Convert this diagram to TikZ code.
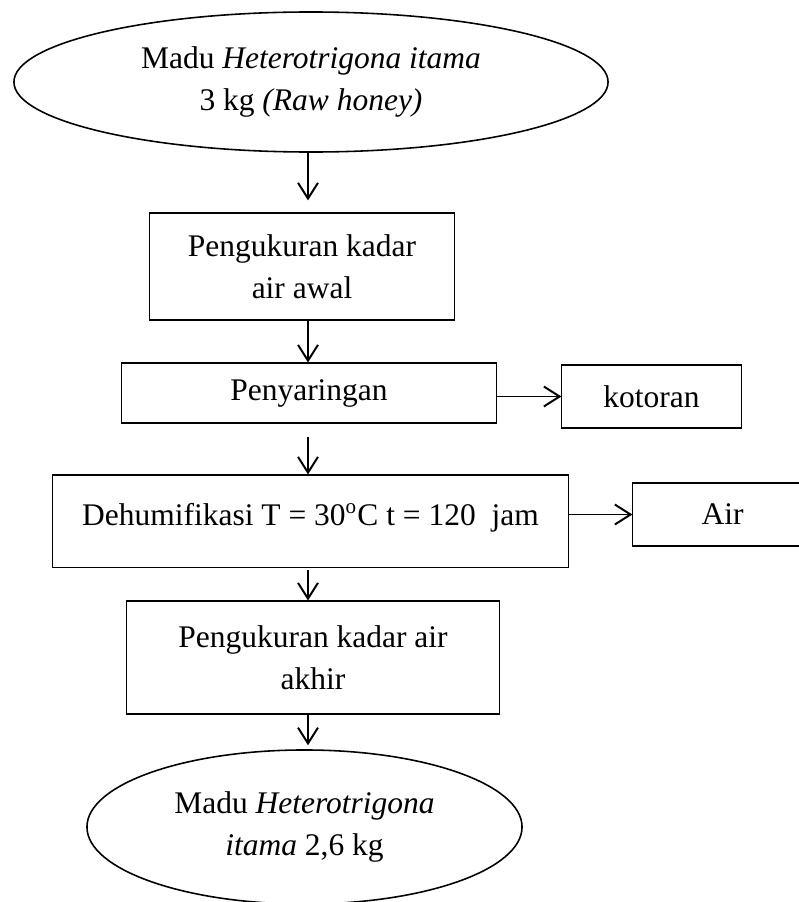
\documentclass[tikz,border=0pt]{standalone}
\usepackage{fontspec}
\setmainfont{Liberation Serif}
\usetikzlibrary{arrows.meta, shapes.geometric}

\begin{document}
\begin{tikzpicture}[x=0.0134cm, y=-0.0134cm,
        box/.style={draw, line width=0.4pt, inner sep=0pt, align=center,
                    font=\fontsize{12}{16}\selectfont},
        oval/.style={draw, ellipse, line width=0.6pt, inner sep=0pt, align=center,
                     font=\fontsize{12}{16}\selectfont},
        arr/.style={-{Straight Barb[length=6pt, width=7.6pt]}, line width=0.75pt}
      ]
      \clip (0,0) rectangle (799,902);
      \coordinate (axis) at (308,0);
      \node[oval, minimum width=7.96cm, minimum height=1.876cm] (raw) at (311,82)
        {Madu \textit{Heterotrigona itama}\\ 3 kg \textit{(Raw honey)}};
      \node[box, minimum width=4.074cm, minimum height=1.434cm] (awal) at (302,266.5)
        {Pengukuran kadar\\ air awal};
      \node[box, minimum width=5.012cm, minimum height=0.804cm] (saring) at (309,393)
        {Penyaringan};
      \node[box, minimum width=2.399cm, minimum height=0.844cm] (kotor) at (651.5,396.5)
        {kotoran};
      \node[box, minimum width=6.901cm, minimum height=1.233cm, text depth=5.4pt] (dehum) at (310.5,521)
        {Dehumifikasi T = 30\textsuperscript{o}C t = 120~ jam};
      \node[box, minimum width=2.399cm, minimum height=0.844cm] (air) at (722.5,514.5)
        {Air};
      \node[box, minimum width=4.985cm, minimum height=1.514cm] (akhir) at (313,657.5)
        {Pengukuran kadar air\\ akhir};
      \node[oval, minimum width=5.829cm, minimum height=2.064cm] (hasil) at (304.5,827)
        {Madu \textit{Heterotrigona}\\ \textit{itama} 2,6 kg};
      \draw[arr, shorten >=4.6pt] (raw.south -| axis) -- (awal.north -| axis);
      \draw[arr] (awal.south -| axis) -- (saring.north -| axis);
      \draw[arr, shorten <=5pt] (saring.south -| axis) -- (dehum.north -| axis);
      \draw[arr, shorten <=1pt] (dehum.south -| axis) -- (akhir.north -| axis);
      \draw[arr, shorten >=1.5pt] (akhir.south -| axis) -- (hasil.north -| axis);
      \draw[arr] (kotor.west -| saring.east) -- (kotor.west);
      \draw[arr] (air.west -| dehum.east) -- (air.west);
    \end{tikzpicture}
\end{document}
